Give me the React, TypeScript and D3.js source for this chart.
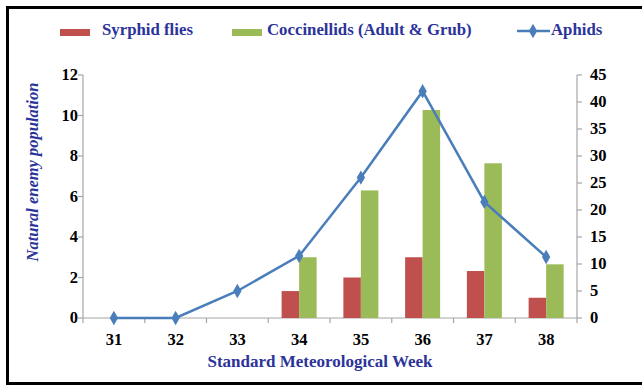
import React from "react";
import * as d3 from "d3";

const weeks = ["31", "32", "33", "34", "35", "36", "37", "38"];
const syrphid = [0, 0, 0, 1.33, 2.0, 3.0, 2.32, 1.0];
const coccinellids = [0, 0, 0, 3.0, 6.3, 10.27, 7.64, 2.65];
const aphids = [0, 0, 5.0, 11.5, 26.0, 42.0, 21.5, 11.3];
const leftTicks = [0, 2, 4, 6, 8, 10, 12];
const rightTicks = [0, 5, 10, 15, 20, 25, 30, 35, 40, 45];

const W = 642;
const H = 385;
const plot = { left: 83, right: 577, top: 75, bottom: 318 };
const textBlue = "#2B339A";
const axisGrey = "#A6A6A6";
const serif = "'Liberation Serif', 'Times New Roman', serif";

export default function App() {
  const x = d3.scaleBand().domain(weeks).range([plot.left, plot.right]);
  const yL = d3.scaleLinear().domain([0, 12]).range([plot.bottom, plot.top]);
  const yR = d3.scaleLinear().domain([0, 45]).range([plot.bottom, plot.top]);
  const barW = 17.5;
  const line = d3
    .line<number>()
    .x((_, i) => (x(weeks[i]) as number) + x.bandwidth() / 2)
    .y((d) => yR(d));
  const diamond = d3.symbol().type(d3.symbolDiamond).size(60)();
  const txt = { fontFamily: serif, fontWeight: "bold" as const };

  return (
    <svg
      width={W}
      height={H}
      style={{ position: "absolute", left: 0, top: 0 }}
    >
      <rect x={0} y={0} width={W} height={H} fill="#fff" />
      {/* frame */}
      <path d={`M${W + 5},7.5 H7.5 V383.5 H${W + 5}`} fill="none" stroke="#000" strokeWidth={3} />

      {/* legend */}
      <rect x={60} y={29} width={30} height={7} fill="#C0504D" />
      <text x={102} y={35} fontSize={16.8} {...txt} fill={textBlue}>
        Syrphid flies
      </text>
      <rect x={232} y={29} width={30} height={7} fill="#9BBB59" />
      <text x={267} y={35} fontSize={16.8} {...txt} fill={textBlue}>
        Coccinellids (Adult &amp; Grub)
      </text>
      <line x1={517} x2={550} y1={31} y2={31} stroke="#4A7EBB" strokeWidth={2.5} />
      <path d={diamond} transform="translate(533,31)" fill="#4A7EBB" />
      <text x={551} y={35} fontSize={16.8} {...txt} fill={textBlue}>
        Aphids
      </text>

      {/* axes */}
      <g stroke={axisGrey} strokeWidth={1.2}>
        <line x1={plot.left} x2={plot.left} y1={plot.top} y2={plot.bottom} />
        <line x1={plot.right} x2={plot.right} y1={plot.top} y2={plot.bottom} />
        <line x1={plot.left} x2={plot.right} y1={plot.bottom} y2={plot.bottom} />
        {leftTicks.map((t) => (
          <line key={"lt" + t} x1={plot.left - 5} x2={plot.left} y1={yL(t)} y2={yL(t)} />
        ))}
        {rightTicks.map((t) => (
          <line key={"rt" + t} x1={plot.right} x2={plot.right + 5} y1={yR(t)} y2={yR(t)} />
        ))}
        {weeks.map((w) => (
          <line
            key={"xt" + w}
            x1={x(w) as number}
            x2={x(w) as number}
            y1={plot.bottom}
            y2={plot.bottom + 5}
          />
        ))}
        <line x1={plot.right} x2={plot.right} y1={plot.bottom} y2={plot.bottom + 5} />
      </g>
      {leftTicks.map((t) => (
        <text
          key={"ll" + t}
          x={plot.left - 5}
          y={yL(t)}
          dy="0.32em"
          textAnchor="end"
          fontSize={16.5}
          {...txt}
          fill="#000"
        >
          {t}
        </text>
      ))}
      {rightTicks.map((t) => (
        <text
          key={"rl" + t}
          x={plot.right + 13}
          y={yR(t)}
          dy="0.32em"
          textAnchor="start"
          fontSize={16.5}
          {...txt}
          fill="#000"
        >
          {t}
        </text>
      ))}
      {weeks.map((w) => (
        <text
          key={"xl" + w}
          x={(x(w) as number) + x.bandwidth() / 2}
          y={345}
          textAnchor="middle"
          fontSize={16.5}
          {...txt}
          fill="#000"
        >
          {w}
        </text>
      ))}

      {/* bars */}
      {weeks.map((w, i) => {
        const cx = (x(w) as number) + x.bandwidth() / 2;
        return (
          <g key={"b" + w}>
            {syrphid[i] > 0 && (
              <rect
                x={cx - barW}
                y={yL(syrphid[i])}
                width={barW}
                height={plot.bottom - yL(syrphid[i])}
                fill="#C0504D"
              />
            )}
            {coccinellids[i] > 0 && (
              <rect
                x={cx}
                y={yL(coccinellids[i])}
                width={barW}
                height={plot.bottom - yL(coccinellids[i])}
                fill="#9BBB59"
              />
            )}
          </g>
        );
      })}

      {/* line */}
      <path d={line(aphids) as string} fill="none" stroke="#4A7EBB" strokeWidth={2.5} />
      {aphids.map((v, i) => (
        <path
          key={"m" + i}
          d={diamond}
          transform={`translate(${(x(weeks[i]) as number) + x.bandwidth() / 2},${yR(v)})`}
          fill="#4A7EBB"
        />
      ))}

      {/* axis titles */}
      <text x={320} y={367} textAnchor="middle" fontSize={17} {...txt} fill={textBlue}>
        Standard Meteorological Week
      </text>
      <text
        transform="translate(38,172) rotate(-90)"
        textAnchor="middle"
        fontSize={16.5}
        {...txt}
        fontStyle="italic"
        fill={textBlue}
      >
        Natural enemy population
      </text>
    </svg>
  );
}
